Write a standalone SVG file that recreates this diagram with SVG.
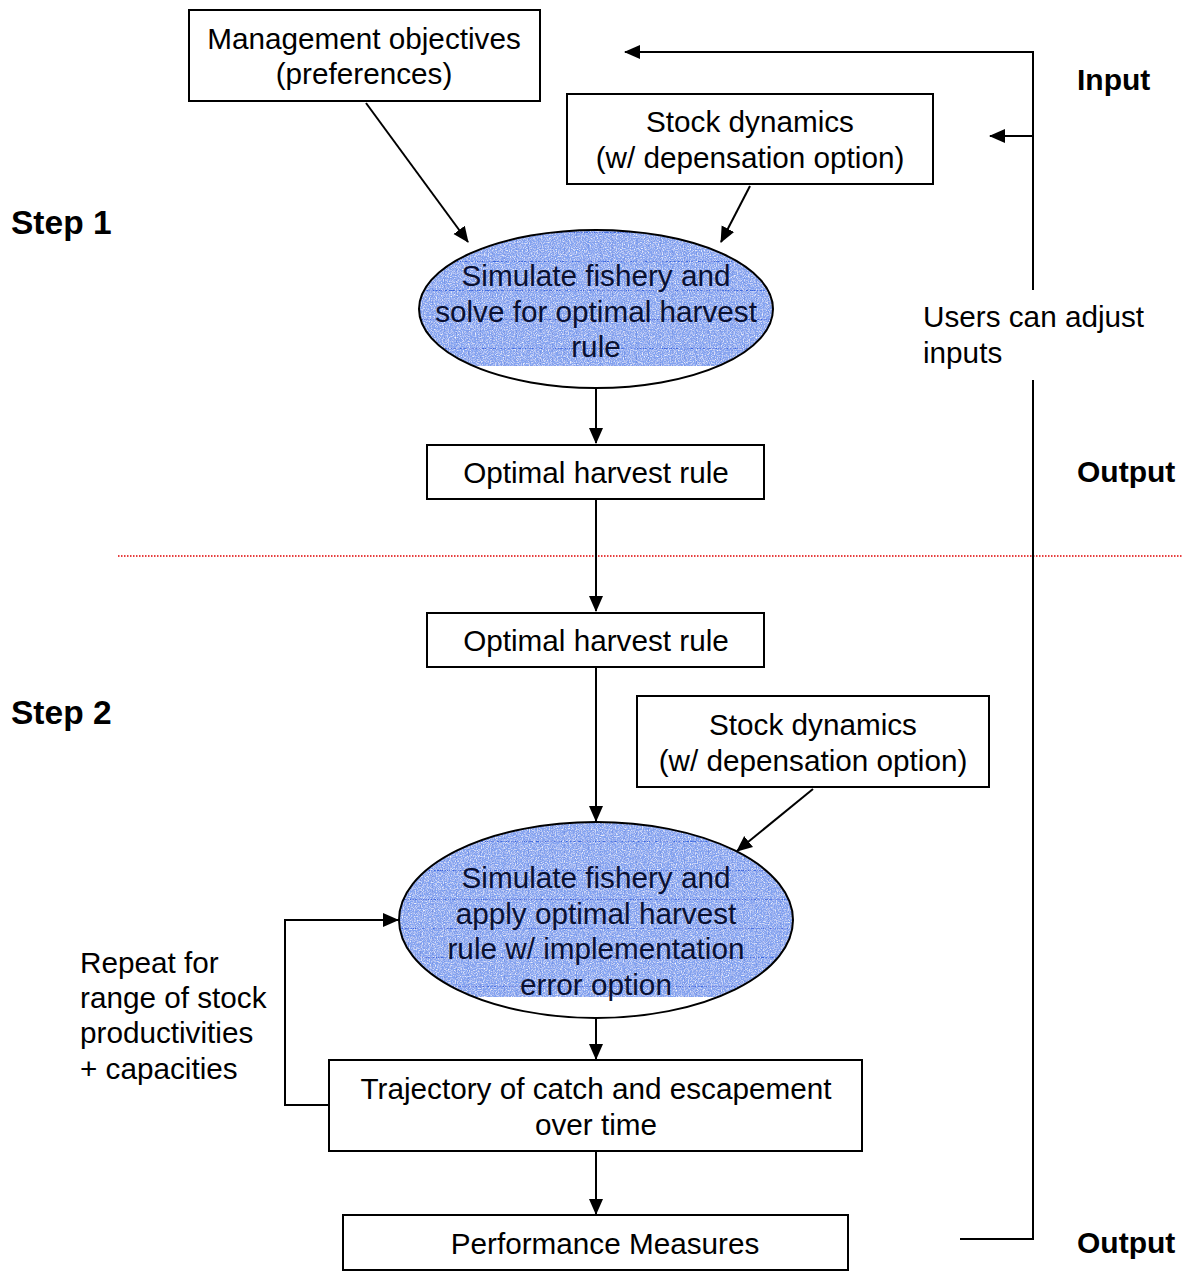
<svg xmlns="http://www.w3.org/2000/svg" width="1183" height="1272" viewBox="0 0 1183 1272">
<style>
.box{fill:#fff;stroke:#000;stroke-width:2}
.t{font-family:"Liberation Sans",Arial,sans-serif;font-size:29.7px;fill:#000}
.c{text-anchor:middle}
.b{font-weight:bold;font-size:30px}
.et{font-family:"Liberation Sans",Arial,sans-serif;font-size:29.7px;fill:#0a1030;text-anchor:middle}
.ln{fill:none;stroke:#000;stroke-width:2}
.ell{fill:none;stroke:#000;stroke-width:2}
</style>
<defs>
<marker id="ah2" markerWidth="16" markerHeight="16" refX="15" refY="8" orient="auto" markerUnits="userSpaceOnUse" viewBox="0 0 16 16">
<path d="M0,1 L16,8 L0,15 z" fill="#000"/>
</marker>
<pattern id="grid" width="12" height="29" patternUnits="userSpaceOnUse">
<rect width="12" height="29" fill="#84a0ec"/>
<path d="M0,0.5 H12" stroke="#3a66de" stroke-width="1"/>
<path d="M0.5,0 V29" stroke="#7391e4" stroke-width="1"/>
</pattern>
<filter id="speckle" x="0" y="0" width="100%" height="100%">
<feTurbulence type="fractalNoise" baseFrequency="0.85" numOctaves="2" seed="4" result="noise"/>
<feColorMatrix in="noise" type="matrix" values="0 0 0 0 1  0 0 0 0 1  0 0 0 0 1  2.2 0 0 0 -0.95" result="white"/>
<feColorMatrix in="noise" type="matrix" values="0 0 0 0 0.2  0 0 0 0 0.38  0 0 0 0 0.95  0 2.4 0 0 -1.1" result="blue"/>
<feMerge><feMergeNode in="SourceGraphic"/><feMergeNode in="white"/><feMergeNode in="blue"/></feMerge>
</filter>
<clipPath id="clip1"><ellipse cx="596" cy="309" rx="177" ry="79"/></clipPath>
<clipPath id="clip2"><ellipse cx="596" cy="920" rx="197" ry="98"/></clipPath>
</defs>
<rect width="1183" height="1272" fill="#fff"/>

<g id="labels">
<text class="t b" x="11" y="234" style="font-size:33.5px">Step 1</text>
<text class="t b" x="11" y="724" style="font-size:33.5px">Step 2</text>
<text class="t b" x="1077" y="90">Input</text>
<text class="t b" x="1077" y="482">Output</text>
<text class="t b" x="1077" y="1253">Output</text>
<text class="t" x="923" y="327">Users can adjust</text>
<text class="t" x="923" y="363">inputs</text>
<text class="t" x="80" y="973">Repeat for</text>
<text class="t" x="80" y="1008">range of stock</text>
<text class="t" x="80" y="1043">productivities</text>
<text class="t" x="80" y="1079">+ capacities</text>
</g>

<line id="divider" x1="118" y1="556" x2="1183" y2="556" stroke="#e00000" stroke-width="1.3" stroke-dasharray="1.5 1.5"/>

<g id="mgmt">
<rect class="box" x="189" y="10" width="351" height="91"/>
<text class="t c" x="364" y="49">Management objectives</text>
<text class="t c" x="364" y="84">(preferences)</text>
</g>

<g id="stock1">
<rect class="box" x="567" y="94" width="366" height="90"/>
<text class="t c" x="750" y="132">Stock dynamics</text>
<text class="t c" x="750" y="168">(w/ depensation option)</text>
</g>

<g id="sim1">
<g clip-path="url(#clip1)">
<rect x="419" y="230" width="354" height="136" fill="url(#grid)" filter="url(#speckle)"/>
</g>
<ellipse class="ell" cx="596" cy="309" rx="177" ry="79"/>
<text class="et" x="596" y="286">Simulate fishery and</text>
<text class="et" x="596" y="322">solve for optimal harvest</text>
<text class="et" x="596" y="357">rule</text>
</g>

<g id="rule1">
<rect class="box" x="427" y="445" width="337" height="54"/>
<text class="t c" x="596" y="483">Optimal harvest rule</text>
</g>

<g id="rule2">
<rect class="box" x="427" y="613" width="337" height="54"/>
<text class="t c" x="596" y="651">Optimal harvest rule</text>
</g>

<g id="stock2">
<rect class="box" x="637" y="696" width="352" height="91"/>
<text class="t c" x="813" y="735">Stock dynamics</text>
<text class="t c" x="813" y="771">(w/ depensation option)</text>
</g>

<g id="sim2">
<g clip-path="url(#clip2)">
<rect x="399" y="822" width="394" height="175" fill="url(#grid)" filter="url(#speckle)"/>
</g>
<ellipse class="ell" cx="596" cy="920" rx="197" ry="98"/>
<text class="et" x="596" y="888">Simulate fishery and</text>
<text class="et" x="596" y="924">apply optimal harvest</text>
<text class="et" x="596" y="959">rule w/ implementation</text>
<text class="et" x="596" y="995">error option</text>
</g>

<g id="traj">
<rect class="box" x="329" y="1060" width="533" height="91"/>
<text class="t c" x="596" y="1099">Trajectory of catch and escapement</text>
<text class="t c" x="596" y="1135">over time</text>
</g>

<g id="perf">
<rect class="box" x="343" y="1215" width="505" height="55"/>
<text class="t c" x="605" y="1254">Performance Measures</text>
</g>

<g id="connectors">
<line class="ln" x1="366" y1="103" x2="468" y2="242" marker-end="url(#ah2)"/>
<line class="ln" x1="750" y1="186" x2="721" y2="242" marker-end="url(#ah2)"/>
<line class="ln" x1="596" y1="389" x2="596" y2="443" marker-end="url(#ah2)"/>
<line class="ln" x1="596" y1="499" x2="596" y2="611" marker-end="url(#ah2)"/>
<line class="ln" x1="596" y1="667" x2="596" y2="821" marker-end="url(#ah2)"/>
<line class="ln" x1="813" y1="789" x2="737" y2="851" marker-end="url(#ah2)"/>
<line class="ln" x1="596" y1="1019" x2="596" y2="1059" marker-end="url(#ah2)"/>
<line class="ln" x1="596" y1="1151" x2="596" y2="1214" marker-end="url(#ah2)"/>
<polyline class="ln" points="329,1105 285,1105 285,920 398,920" marker-end="url(#ah2)"/>
<polyline class="ln" points="960,1239 1033,1239 1033,380"/>
<polyline class="ln" points="1033,290 1033,52 625,52" marker-end="url(#ah2)"/>
<line class="ln" x1="1033" y1="136" x2="990" y2="136" marker-end="url(#ah2)"/>
</g>
</svg>
